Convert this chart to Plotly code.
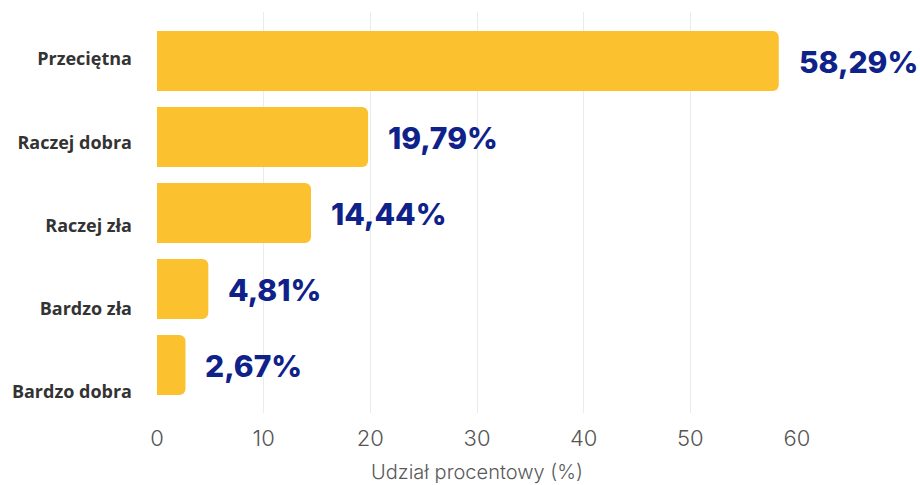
import plotly.graph_objects as go

# Survey categories (bottom to top) and their percentage share
categories = ["Bardzo dobra", "Bardzo zła", "Raczej zła", "Raczej dobra", "Przeciętna"]
shares = [2.67, 4.81, 14.44, 19.79, 58.29]
x_ticks = [0, 10, 20, 30, 40, 50, 60]
x_title = "Udział procentowy (%)"

positions = list(range(len(categories)))

fig = go.Figure()

fig.add_trace(go.Bar(
    x=shares,
    y=positions,
    orientation="h",
    marker=dict(color="#FBC12E", line=dict(width=0), cornerradius=6),
    width=0.79,
    hoverinfo="skip",
    yaxis="y",
))

# invisible trace so the label axis gets drawn
fig.add_trace(go.Scatter(
    x=[0] * len(positions),
    y=positions,
    mode="markers",
    marker=dict(opacity=0),
    hoverinfo="skip",
    showlegend=False,
    yaxis="y2",
))

def fmt(v):
    return f"{v:.2f}".replace(".", ",") + "%"

annotations = [
    dict(
        x=v, y=p, xref="x", yref="y",
        text=fmt(v), showarrow=False,
        xanchor="left", yanchor="middle", xshift=18, yshift=-1,
        font=dict(family="Inter", size=30, color="#0E228A", weight=800),
    )
    for v, p in zip(shares, positions)
]

fig.update_layout(
    width=920, height=485,
    margin=dict(l=157, r=123, t=12, b=72),
    paper_bgcolor="white",
    plot_bgcolor="white",
    showlegend=False,
    annotations=annotations,
    xaxis=dict(
        range=[0, 60],
        tickvals=x_ticks,
        showgrid=True, gridcolor="#ebebeb", gridwidth=1,
        zeroline=False, showline=False,
        ticks="",
        automargin=False,
        ticklabelstandoff=10,
        tickfont=dict(family="Inter", size=22, color="#555555", weight=300),
        title=dict(text=x_title, standoff=14,
                   font=dict(family="Inter", size=20, color="#5a5a5a", weight=300)),
        fixedrange=True,
    ),
    yaxis=dict(
        range=[-0.632, 4.645],
        showticklabels=False, showgrid=False, zeroline=False, ticks="",
        fixedrange=True,
    ),
    yaxis2=dict(
        overlaying="y",
        side="left",
        range=[-0.252, 4.565],
        tickmode="array",
        tickvals=positions,
        ticktext=categories,
        showgrid=False, zeroline=False, showline=False, ticks="",
        automargin=False,
        ticklabelstandoff=24,
        tickfont=dict(family="Open Sans", size=18, color="#333333", weight=700),
        fixedrange=True,
    ),
)

fig.write_html("out.html")
